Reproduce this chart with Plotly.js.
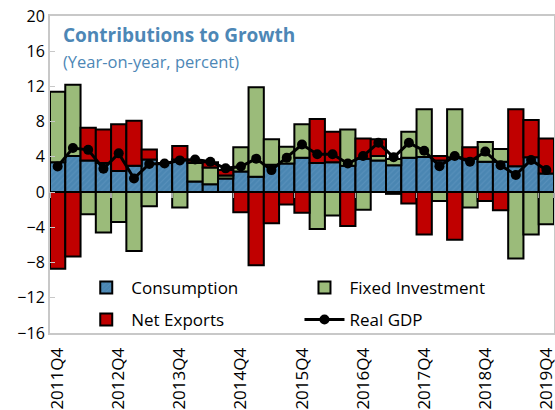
<!DOCTYPE html>
<html>
<head>
<meta charset="utf-8">
<script src="https://cdn.plot.ly/plotly-3.0.1.min.js"></script>
<style>html,body{margin:0;padding:0;background:#fff;}#chart{width:555px;height:410px;}</style>
</head>
<body>
<div id="chart"></div>
<script>
const quarters = [
  "2011Q4","2012Q1","2012Q2","2012Q3","2012Q4","2013Q1","2013Q2","2013Q3","2013Q4",
  "2014Q1","2014Q2","2014Q3","2014Q4","2015Q1","2015Q2","2015Q3","2015Q4",
  "2016Q1","2016Q2","2016Q3","2016Q4","2017Q1","2017Q2","2017Q3","2017Q4",
  "2018Q1","2018Q2","2018Q3","2018Q4","2019Q1","2019Q2","2019Q3","2019Q4"
];
const consumption = [3.4,4.1,3.6,3.3,2.4,3.0,3.7,3.3,3.7, 1.2,0.9,1.55,2.35,1.75,3.1,3.25,3.9, 3.3,3.4,3.0,3.8,3.6,3.05,3.9,4.0, 3.6,3.95,3.8,3.45,3.45,2.95,3.95,2.1];
const fixedInvestment = [8.0,8.1,-2.5,-4.6,-3.4,-6.7,-1.6,0.0,-1.75, 2.1,1.9,0.35,2.75,10.15,2.9,1.9,3.8, -4.2,-2.65,4.1,-2.0,0.5,0.7,2.95,5.4, -1.0,5.45,-1.75,2.25,1.45,-7.55,-4.8,-3.65];
const netExports = [-8.7,-7.3,3.7,3.8,5.3,5.1,1.15,0.0,1.55, 0.3,0.6,0.6,-2.3,-8.3,-3.55,-1.4,-2.35, 5.0,3.45,-3.85,2.3,1.9,-0.2,-1.3,-4.8, 0.5,-5.4,1.3,-1.0,-2.05,6.45,4.25,4.0];
const realGDP = [2.9,5.0,4.8,2.65,4.4,1.55,3.2,3.25,3.6, 3.7,3.45,2.7,2.9,3.8,2.5,3.9,5.4, 4.3,4.3,3.25,4.1,5.6,3.95,5.6,4.7, 2.95,4.1,3.45,4.6,3.05,1.95,3.65,2.5];
const tickLabels = ["2011Q4","2012Q4","2013Q4","2014Q4","2015Q4","2016Q4","2017Q4","2018Q4","2019Q4"];
const yTicks = [-16,-12,-8,-4,0,4,8,12,16,20];
const yRange = [-16, 20];

const FONT = "'Open Sans', 'Noto Sans', sans-serif";
const TITLE_COLOR = "#4D87B6";

const traces = [
  {
    type: "bar", name: "Consumption", x: quarters, y: consumption, legend: "legend",
    marker: {
      color: "#4A86B2",
      line: {color: "#000", width: 2},
      pattern: {shape: "/", fillmode: "overlay", fgcolor: "#7AAAD0", fgopacity: 0.3, size: 4, solidity: 0.25}
    }
  },
  {
    type: "bar", name: "Fixed Investment", x: quarters, y: fixedInvestment, legend: "legend2",
    marker: {color: "#9BBB7A", line: {color: "#000", width: 2}}
  },
  {
    type: "bar", name: "Net Exports", x: quarters, y: netExports, legend: "legend3",
    marker: {color: "#C00000", line: {color: "#000", width: 2}}
  },
  {
    type: "scatter", mode: "lines+markers", name: "Real GDP", x: quarters, y: realGDP, legend: "legend4",
    line: {color: "#000", width: 3},
    marker: {color: "#000", size: 10}
  },
  {
    // carrier for the category tick marks drawn on the zero line
    type: "scatter", mode: "markers", x: quarters, y: quarters.map(() => null),
    xaxis: "x2", yaxis: "y", showlegend: false, hoverinfo: "skip"
  }
];

function legendAt(x, y) {
  return {
    orientation: "h", xanchor: "left", yanchor: "middle", x: x, y: y,
    bgcolor: "rgba(0,0,0,0)", borderwidth: 0,
    font: {family: FONT, size: 17, color: "#000"},
    itemwidth: 40
  };
}

const zeroFrac = (0 - yRange[0]) / (yRange[1] - yRange[0]);

const layout = {
  width: 555, height: 410,
  margin: {l: 50, r: 1, t: 16, b: 77},
  paper_bgcolor: "#fff", plot_bgcolor: "#fff",
  barmode: "relative", bargap: 0,
  showlegend: true,
  legend: legendAt(0.062, 0.142),
  legend2: legendAt(0.495, 0.142),
  legend3: legendAt(0.062, 0.041),
  legend4: legendAt(0.495, 0.041),
  xaxis: {
    type: "category", range: [-0.5, quarters.length - 0.5],
    tickmode: "array", tickvals: tickLabels, ticktext: tickLabels,
    tickangle: -90, tickfont: {family: FONT, size: 17, color: "#000"},
    showgrid: false, zeroline: false, showline: true, mirror: true,
    linecolor: "#C8C8C8", linewidth: 2, ticks: "", ticklabelstandoff: 6
  },
  xaxis2: {
    type: "category", overlaying: "x", anchor: "free", position: zeroFrac,
    range: [-0.5, quarters.length - 0.5],
    tickmode: "array", tickvals: tickLabels, tickson: "boundaries",
    ticks: "outside", ticklen: 5, tickcolor: "#A6A6A6", tickwidth: 1.5,
    showticklabels: false, showgrid: false, zeroline: false, showline: false
  },
  yaxis: {
    range: yRange, tickmode: "array", tickvals: yTicks,
    tickfont: {family: FONT, size: 16, color: "#000"},
    showgrid: false, zeroline: true, zerolinecolor: "#A6A6A6", zerolinewidth: 2,
    showline: true, mirror: true, linecolor: "#C8C8C8", linewidth: 2,
    ticks: "inside", ticklen: 5, tickcolor: "#C8C8C8", tickwidth: 1
  },
  annotations: [
    {xref: "paper", yref: "paper", x: 0.022, y: 0.94, xanchor: "left", yanchor: "middle",
     text: "<b>Contributions to Growth</b>", showarrow: false,
     font: {family: FONT, size: 19, color: TITLE_COLOR}},
    {xref: "paper", yref: "paper", x: 0.022, y: 0.855, xanchor: "left", yanchor: "middle",
     text: "(Year-on-year, percent)", showarrow: false,
     font: {family: FONT, size: 16.5, color: TITLE_COLOR}}
  ]
};

Plotly.newPlot("chart", traces, layout, {displayModeBar: false, staticPlot: true});
</script>
</body>
</html>
